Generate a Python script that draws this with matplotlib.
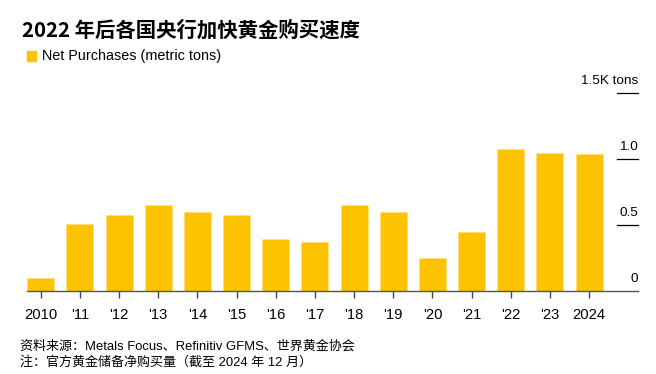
import matplotlib.pyplot as plt

# Net purchases by central banks, thousand metric tons
years = list(range(2010, 2025))
tick_labels = ["2010", "'11", "'12", "'13", "'14", "'15", "'16", "'17",
               "'18", "'19", "'20", "'21", "'22", "'23", "2024"]
net_purchases = [0.095, 0.512, 0.578, 0.652, 0.600, 0.578, 0.393, 0.375,
                 0.654, 0.600, 0.251, 0.449, 1.078, 1.050, 1.043]
y_ticks = [0, 0.5, 1.0, 1.5]
y_tick_labels = ["0", "0.5", "1.0", "1.5K tons"]

GOLD = "#FDC300"
LATIN_CJK = ["Liberation Sans", "Noto Sans CJK SC", "DejaVu Sans"]

plt.rcParams['font.family'] = LATIN_CJK

fig = plt.figure(figsize=(6.56, 3.74), dpi=100)
ax = fig.add_axes([27 / 656, 83 / 374, 611 / 656, (291 - 93.3) / 374])

x = list(range(len(years)))
ax.bar(x, net_purchases, width=0.69, color=GOLD, edgecolor="#FFE27A",
       linewidth=0.6, zorder=2)

ax.set_xlim(-0.35, 15.25)
ax.set_ylim(0, 1.5)

# short gridline stubs on the right, labels sitting on top of them
for val, lab in zip(y_ticks, y_tick_labels):
    if val > 0:
        ax.plot([0.966, 1.0], [val, val], transform=ax.get_yaxis_transform(),
                color="black", linewidth=0.9, clip_on=False)
    ax.text(1.0, val + 0.045, lab, transform=ax.get_yaxis_transform(),
            ha="right", va="bottom", fontsize=9.7, color="black")

for side in ["top", "right", "left"]:
    ax.spines[side].set_visible(False)
ax.spines["bottom"].set_color("#555555")
ax.spines["bottom"].set_linewidth(1.0)
ax.set_yticks([])
ax.set_xticks(x)
ax.set_xticklabels(tick_labels, fontsize=10.6)
ax.tick_params(axis="x", direction="out", length=5, width=1,
               color="#444444", pad=7)

fig.text(22 / 656, 1 - 30 / 374, "2022 年后各国央行加快黄金购买速度",
         fontsize=14.7, fontweight="bold", va="center",
         family=["Noto Sans CJK SC", "DejaVu Sans"])

fig.patches.append(plt.Rectangle((27 / 656, 1 - 61 / 374), 9 / 656, 10 / 374,
                                 transform=fig.transFigure, color=GOLD))
fig.text(42 / 656, 1 - 56 / 374, "Net Purchases (metric tons)",
         fontsize=10.4, va="center")

fig.text(20 / 656, 1 - 346 / 374,
         "资料来源：Metals Focus、Refinitiv GFMS、世界黄金协会",
         fontsize=9.4, va="center")
fig.text(20 / 656, 1 - 362 / 374,
         "注：官方黄金储备净购买量（截至 2024 年 12 月）",
         fontsize=9.4, va="center")

fig.savefig("out.png", dpi=100)
